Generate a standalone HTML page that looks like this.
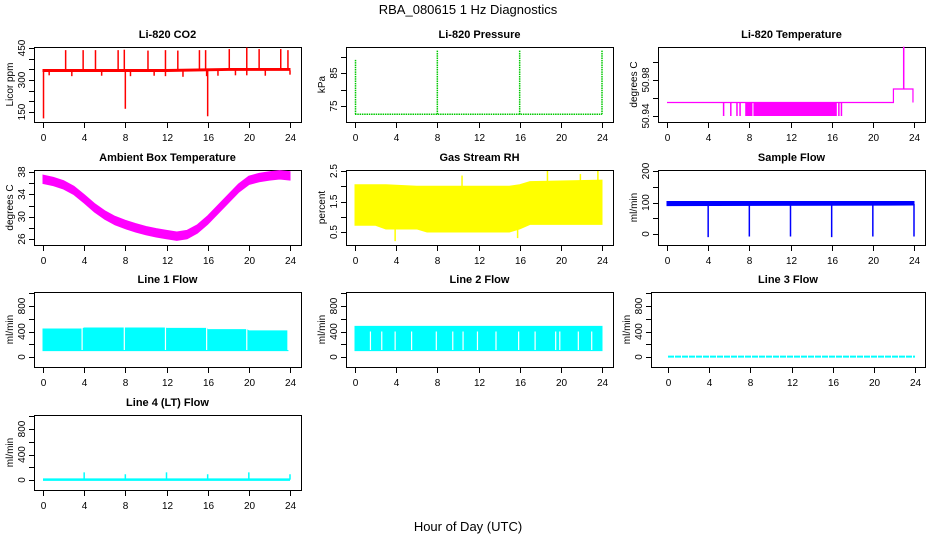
<!DOCTYPE html>
<html><head><meta charset="utf-8"><style>
body{margin:0;background:#fff}
svg{display:block;font-family:"Liberation Sans",sans-serif}
</style></head><body>
<svg id="chart" width="936" height="540" viewBox="0 0 936 540">
<rect width="936" height="540" fill="#fff"/>
<text x="468" y="14" text-anchor="middle" font-size="13">RBA_080615  1 Hz Diagnostics</text>
<text x="468" y="531" text-anchor="middle" font-size="13">Hour of Day (UTC)</text>
</svg>
<script>
const xTicks=[0,4,8,12,16,20,24];
// CO2
const co2BandT=[0,6,12,18,24];
const co2BandLo=[340,340,340,345,345];
const co2BandHi=[349,349,349,354,354];
const co2UpT=[2.2,3.9,5.1,7.3,7.9,10.2,11.9,13.1,15.2,15.8,18.1,19.8,21.0,23.1,23.8];
const co2UpV=[440,440,440,440,442,438,440,438,440,440,445,452,445,445,440];
const co2DnT=[0.05,0.6,2.8,5.7,8.0,8.5,10.8,11.9,13.6,15.9,16.0,17.0,18.7,19.8,21.6,24.0];
const co2DnV=[120,322,318,320,165,318,320,318,315,318,130,320,322,322,320,325];
// Pressure
const presBase=72.5;
const presSpT=[0.05,8.0,16.0,24.0];
const presSpV=[89,92,92,92];
// Li-820 temperature
const tempStepT=[0,22,22,23.9,23.9];
const tempStepV=[50.955,50.955,50.97,50.97,50.955];
const tempSpT=[23.0];
const tempSpV=[51.017];
const tempDropT=[5.5,6.2,6.8,7.1,16.7,16.95];
const tempBlockStart=[7.6,8.4];
const tempBlockEnd=[8.3,16.5];
const tempDropV=50.94;
// Ambient box temperature
const ambT=[0,1,2,3,4,5,6,7,8,9,10,11,12,13,14,15,16,17,18,19,20,21,22,23,24];
const ambV=[36.7,36.3,35.7,34.7,33.2,31.6,30.3,29.3,28.6,28.0,27.5,27.1,26.8,26.5,26.8,27.8,29.4,31.3,33.2,35.1,36.5,37.0,37.3,37.5,37.3];
// RH
const rhT=[0,2,3,6,7,15,16,17,24];
const rhLo=[0.72,0.72,0.6,0.6,0.5,0.5,0.6,0.75,0.75];
const rhHi=[2.05,2.05,2.05,2.0,2.0,2.0,2.05,2.15,2.2];
const rhSpT=[3.9,10.4,15.8,18.7,21.9,23.6];
const rhSpV=[0.2,2.35,0.3,2.5,2.4,2.5];
// Sample flow
const sfT=[0,24];
const sfLo=[90,92];
const sfHi=[103,103];
const sfDipT=[4,8,12,16,20,24];
const sfDipV=[-10,-8,-8,-10,-8,-8];
// Line flows
const l1T=[0,3.8,4,7.9,8,11.9,12,15.9,16,19.8,20,23.8];
const l1Lo=[100,100,100,100,100,100,100,100,100,100,100,100];
const l1Hi=[440,440,455,455,455,455,450,450,430,430,410,410];
const l1Gap=[3.8,7.9,11.9,15.9,19.8,23.8];
const l2T=[0,24];
const l2Lo=[100,100];
const l2Hi=[480,480];
const l2Gap=[1.5,2.6,3.9,5.5,7.9,9.5,10.5,11.9,13.7,15.9,17.5,19.5,19.9,21.7,23.0];
const l3V=[5,5];
const l4V=[5,5];
const l4SpT=[4,8,12,16,20,24];
const l4SpV=[120,90,120,90,120,90];

const NS="http://www.w3.org/2000/svg";
const svg=document.getElementById('chart');
function mk(tag,attrs,parent){const e=document.createElementNS(NS,tag);for(const k in attrs)e.setAttribute(k,attrs[k]);(parent||svg).appendChild(e);return e;}
const panels=[
 {id:'co2',title:'Li-820 CO2',yl:'Licor ppm',L:34,T:47,x0:9,ya:[150,65,450,1],ticks:[150,200,250,300,350,400,450],labs:[150,300,450]},
 {id:'pressure',title:'Li-820 Pressure',yl:'kPa',L:346,T:47,x0:9,ya:[75,59,85,26],ticks:[75,80,85,90],labs:[75,85]},
 {id:'li820-temp',title:'Li-820 Temperature',yl:'degrees C',L:658,T:47,x0:9,ya:[50.94,69,50.98,33],ticks:[50.94,50.96,50.98,51.0],labs:[50.94,50.98]},
 {id:'ambient',title:'Ambient Box Temperature',yl:'degrees C',L:34,T:170,x0:9,ya:[26,69,38,2],ticks:[26,28,30,32,34,36,38],labs:[26,30,34,38]},
 {id:'rh',title:'Gas Stream RH',yl:'percent',L:346,T:170,x0:9,ya:[0.5,62,2.5,1],ticks:[0.5,1,1.5,2,2.5],labs:[0.5,1.5,2.5]},
 {id:'sample-flow',title:'Sample Flow',yl:'ml/min',L:658,T:170,x0:9,ya:[0,64,200,1],ticks:[0,50,100,150,200],labs:[0,100,200]},
 {id:'line1',title:'Line 1 Flow',yl:'ml/min',L:34,T:292,x0:9,ya:[0,65,800,14],ticks:[0,200,400,600,800,1000],labs:[0,400,800]},
 {id:'line2',title:'Line 2 Flow',yl:'ml/min',L:346,T:292,x0:9,ya:[0,65,800,14],ticks:[0,200,400,600,800,1000],labs:[0,400,800]},
 {id:'line3',title:'Line 3 Flow',yl:'ml/min',L:651,T:292,x0:17,W:274,ya:[0,65,800,14],ticks:[0,200,400,600,800,1000],labs:[0,400,800]},
 {id:'line4',title:'Line 4 (LT) Flow',yl:'ml/min',L:34,T:415,x0:9,ya:[0,65,800,14],ticks:[0,200,400,600,800,1000],labs:[0,400,800]}
];
const H=75;
const P={};
panels.forEach(p=>{
 const W=p.W||267;
 const g=mk('g',{});
 
 
 const X=v=>p.L+p.x0+v*(247/24);
 const Y=v=>p.T+p.ya[1]+(v-p.ya[0])*(p.ya[3]-p.ya[1])/(p.ya[2]-p.ya[0]);
 P[p.id]={g,X,Y};
 const t=mk('text',{x:p.L+W/2,y:p.T-9,'text-anchor':'middle','font-size':'11','font-weight':'bold'},g);
 t.textContent=p.title;
 
 
 const b=mk('rect',{x:p.L+0.5,y:p.T+0.5,width:W,height:H,fill:'none',stroke:'#000'},g);
 
 
 const xa=mk('g',{},g);
 
 
 mk('line',{x1:X(0),x2:X(24),y1:p.T+H+0.5,y2:p.T+H+0.5,stroke:'#000'},xa);
 xTicks.forEach(v=>{const x=Math.round(X(v))+0.5;mk('line',{x1:x,x2:x,y1:p.T+H,y2:p.T+H+6,stroke:'#000'},xa);
  const tl=mk('text',{x:x,y:p.T+H+19,'text-anchor':'middle','font-size':'10'},xa);tl.textContent=v;});
 const ya=mk('g',{},g);
 
 
 p.ticks.forEach(v=>{const y=Math.round(Y(v))+0.5;mk('line',{x1:p.L-5,x2:p.L,y1:y,y2:y,stroke:'#000'},ya);});
 p.labs.forEach(v=>{const y=Y(v);const tl=mk('text',{x:0,y:0,'text-anchor':'middle','font-size':'10',transform:`translate(${p.L-9},${y}) rotate(-90)`},ya);tl.textContent=v.toFixed(v<10&&v%1?1:(v>50&&v<52?2:0));});
 const yl=mk('text',{x:0,y:0,'text-anchor':'middle','font-size':'10',transform:`translate(${p.L-21},${p.T+H/2}) rotate(-90)`},g);
 yl.textContent=p.yl;
 
 
});
function band(id,ts,lo,hi,col,name){const {g,X,Y}=P[id];let pts=ts.map((t,i)=>X(t)+','+Y(hi[i]));for(let i=ts.length-1;i>=0;i--)pts.push(X(ts[i])+','+Y(lo[i]));
 const e=mk('polygon',{points:pts.join(' '),fill:col,stroke:col,'stroke-width':1},g);
 
 }
function spikes(id,ts,from,vs,col,name,w,dash){const {g,X,Y}=P[id];ts.forEach((t,i)=>{const f=Array.isArray(from)?from[i]:from;
 const a={x1:X(t),x2:X(t),y1:Y(f),y2:Y(vs[i]),stroke:col,'stroke-width':w||1.5};if(dash)a['stroke-dasharray']=dash;
 const e=mk('line',a,g);
 
 });}
function path(id,ts,vs,col,name,extra){const {g,X,Y}=P[id];const e=mk('polyline',Object.assign({points:ts.map((t,i)=>X(t)+','+Y(vs[i])).join(' '),fill:'none',stroke:col,'stroke-width':1},extra||{}),g);
 
 }
// CO2
band('co2',co2BandT,co2BandLo,co2BandHi,'#f00','co2-band');
spikes('co2',co2UpT,345,co2UpV,'#f00','co2-spike');
spikes('co2',co2DnT,345,co2DnV,'#f00','co2-dip');
// Pressure
path('pressure',[0,24],[presBase,presBase],'#00c800','pressure-line',{'stroke-width':1.5,'stroke-dasharray':'1.5,0.8'});
spikes('pressure',presSpT,presBase,presSpV,'#00c800','pressure-spike',1.5,'1.5,0.8');
// Li-820 temperature
path('li820-temp',tempStepT,tempStepV,'#f0f','temp-line',{'stroke-width':1.2});
spikes('li820-temp',tempSpT,50.97,tempSpV,'#f0f','temp-spike');
spikes('li820-temp',tempDropT,50.955,tempDropT.map(()=>tempDropV),'#f0f','temp-drop');
(function(){const {g,X,Y}=P['li820-temp'];tempBlockStart.forEach((s,i)=>{const e=mk('rect',{x:X(s),y:Y(50.955),width:X(tempBlockEnd[i])-X(s),height:Y(tempDropV)-Y(50.955),fill:'#f0f'},g);
 
 });})();
// Ambient
band('ambient',ambT,ambV.map(v=>v-0.75),ambV.map(v=>v+0.75),'#f0f','ambient-band');
// RH
band('rh',rhT,rhLo,rhHi,'#ff0','rh-band');
spikes('rh',rhSpT,1.2,rhSpV,'#ff0','rh-spike');
// Sample flow
band('sample-flow',sfT,sfLo,sfHi,'#00f','sample-flow-band');
spikes('sample-flow',sfDipT,95,sfDipV,'#00f','sample-flow-dip');
// Line 1
band('line1',l1T,l1Lo,l1Hi,'#0ff','line1-band');
spikes('line1',l1Gap,110,l1Gap.map(()=>470),'#fff','line1-gap',1.2);
// Line 2
band('line2',l2T,l2Lo,l2Hi,'#0ff','line2-band');
spikes('line2',l2Gap,110,l2Gap.map(()=>400),'#fff','line2-gap',1.2);
// Line 3
path('line3',[0,24],l3V,'#0ff','line3-line',{'stroke-width':2,'stroke-dasharray':'6,1'});
// Line 4
path('line4',[0,24],l4V,'#0ff','line4-line',{'stroke-width':2.5});
spikes('line4',l4SpT,5,l4SpV,'#0ff','line4-spike');
</script>
</body></html>
